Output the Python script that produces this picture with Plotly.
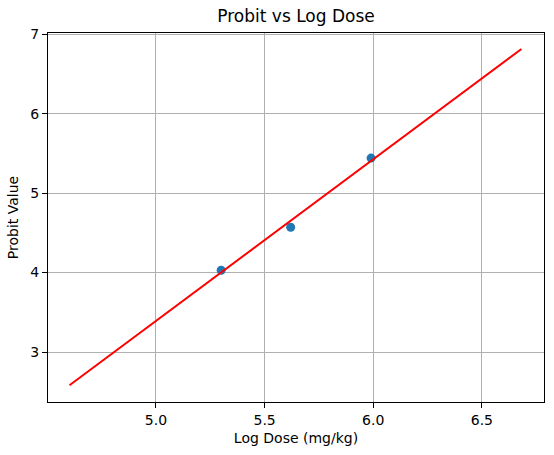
import plotly.graph_objects as go

# observed probit points
log_dose = [5.30, 5.62, 5.99]
probit = [4.03, 4.57, 5.44]

# fitted regression line (end points)
fit_x = [4.602, 6.682]
fit_y = [2.582, 6.813]

x_ticks = [5.0, 5.5, 6.0, 6.5]
y_ticks = [3, 4, 5, 6, 7]

FONT = "DejaVu Sans"

fig = go.Figure()
fig.add_trace(
    go.Scatter(
        x=log_dose,
        y=probit,
        mode="markers",
        marker=dict(color="#1f77b4", size=9),
        showlegend=False,
    )
)
fig.add_trace(
    go.Scatter(
        x=fit_x,
        y=fit_y,
        mode="lines",
        line=dict(color="red", width=2),
        showlegend=False,
    )
)

axis_style = dict(
    showline=True,
    linecolor="black",
    linewidth=1.1,
    mirror=True,
    ticks="outside",
    ticklen=5,
    tickwidth=1.1,
    tickcolor="black",
    showgrid=True,
    gridcolor="#b0b0b0",
    gridwidth=1.1,
    zeroline=False,
    automargin=False,
    tickfont=dict(family=FONT, size=14, color="black"),
)

fig.update_layout(
    width=554,
    height=455,
    paper_bgcolor="white",
    plot_bgcolor="white",
    margin=dict(l=48, r=10, t=33, b=53, autoexpand=False),
    font=dict(family=FONT, color="black"),
    title=dict(
        text="Probit vs Log Dose",
        x=0.5,
        xref="paper",
        y=1 - 16 / 455,
        yref="container",
        yanchor="middle",
        font=dict(family=FONT, size=17, color="black"),
    ),
    xaxis=dict(
        **axis_style,
        range=[4.503, 6.786],
        tickvals=x_ticks,
        ticktext=[f"{v:.1f}" for v in x_ticks],
        title=dict(text="Log Dose (mg/kg)", font=dict(family=FONT, size=14), standoff=6),
    ),
    yaxis=dict(
        **axis_style,
        range=[2.372, 7.014],
        tickvals=y_ticks,
        title=dict(text="Probit Value", font=dict(family=FONT, size=14), standoff=8),
    ),
)

# drop the page's default body margin so the figure sits at the window corner
fig.write_html(
    "out.html",
    config={"displayModeBar": False},
    post_script="document.body.style.margin='0';document.body.style.overflow='hidden';",
)
